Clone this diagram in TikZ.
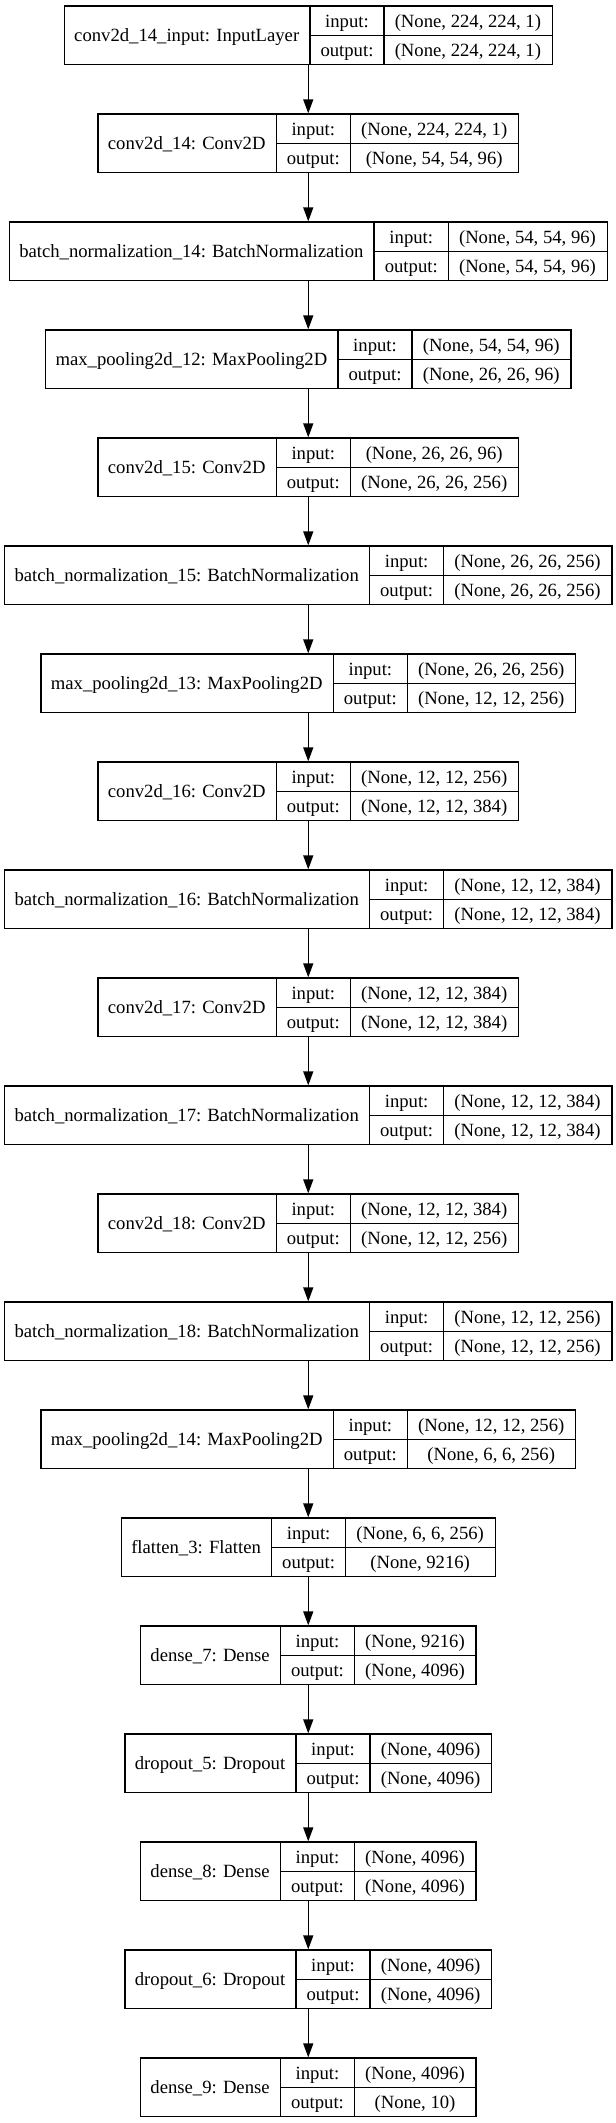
\documentclass[tikz,border=0pt]{standalone}
\usepackage{fontspec}
\setmainfont{Liberation Serif}
\usetikzlibrary{arrows.meta}
\newlength\lyrA \newlength\lyrB \newlength\lyrC \newlength\lyrD \newlength\lyrT
\newcommand\lyrfont{\normalfont\fontsize{14pt}{16.8pt}\selectfont}
\tikzset{
  box/.style={draw=black, line width=1pt, inner sep=0pt, minimum height=44pt},
  cell/.style={draw=black, line width=1pt},
  txt/.style={inner sep=0pt, anchor=base, font=\lyrfont},
  arr/.style={-{Triangle[length=10.5pt,width=7.5pt]}, line width=1pt, draw=black},
}
% measuring pass (outside the picture)
\newcommand\measurelayer[5]{%
  \settowidth\lyrA{\lyrfont #3}\addtolength\lyrA{16pt}%
  \settowidth\lyrB{\lyrfont output:}\addtolength\lyrB{16pt}%
  \settowidth\lyrC{\lyrfont #4}\settowidth\lyrD{\lyrfont #5}%
  \ifdim\lyrD>\lyrC \lyrC=\lyrD\fi
  \addtolength\lyrC{16pt}%
  \expandafter\xdef\csname lwA#1\endcsname{\the\lyrA}%
  \expandafter\xdef\csname lwB#1\endcsname{\the\lyrB}%
  \expandafter\xdef\csname lwC#1\endcsname{\the\lyrC}%
}
% drawing pass: #1 name, #2 index, #3 label, #4 input shape, #5 output shape
\newcommand\drawlayer[5]{%
  \lyrA=\csname lwA#1\endcsname\relax
  \lyrB=\csname lwB#1\endcsname\relax
  \lyrC=\csname lwC#1\endcsname\relax
  \lyrT=\lyrA \advance\lyrT\lyrB \advance\lyrT\lyrC
  \node[box, minimum width=\lyrT] (#1) at (231.2pt,{-4.5pt-81pt*(#2-1)-22pt}) {};
  \draw[cell] ([xshift=\lyrA]#1.north west) -- ([xshift=\lyrA]#1.south west);
  \draw[cell] ([xshift=\lyrA+\lyrB]#1.north west) -- ([xshift=\lyrA+\lyrB]#1.south west);
  \draw[cell] ([xshift=\lyrA]#1.west) -- (#1.east);
  \node[txt] (#1-name) at ([xshift=0.5\lyrA, yshift=-4.8pt]#1.west) {#3};
  \node[txt] (#1-ik) at ([xshift=\lyrA+0.5\lyrB, yshift=6.2pt]#1.west) {input:};
  \node[txt] (#1-ok) at ([xshift=\lyrA+0.5\lyrB, yshift=-15.8pt]#1.west) {output:};
  \node[txt] (#1-iv) at ([xshift=\lyrA+\lyrB+0.5\lyrC, yshift=6.2pt]#1.west) {#4};
  \node[txt] (#1-ov) at ([xshift=\lyrA+\lyrB+0.5\lyrC, yshift=-15.8pt]#1.west) {#5};
}
\newcommand\layerlist{%
\layer{L1}{1}{conv2d\_14\_input: InputLayer}{(None, 224, 224, 1)}{(None, 224, 224, 1)}%
\layer{L2}{2}{conv2d\_14: Conv2D}{(None, 224, 224, 1)}{(None, 54, 54, 96)}%
\layer{L3}{3}{batch\_normalization\_14: BatchNormalization}{(None, 54, 54, 96)}{(None, 54, 54, 96)}%
\layer{L4}{4}{max\_pooling2d\_12: MaxPooling2D}{(None, 54, 54, 96)}{(None, 26, 26, 96)}%
\layer{L5}{5}{conv2d\_15: Conv2D}{(None, 26, 26, 96)}{(None, 26, 26, 256)}%
\layer{L6}{6}{batch\_normalization\_15: BatchNormalization}{(None, 26, 26, 256)}{(None, 26, 26, 256)}%
\layer{L7}{7}{max\_pooling2d\_13: MaxPooling2D}{(None, 26, 26, 256)}{(None, 12, 12, 256)}%
\layer{L8}{8}{conv2d\_16: Conv2D}{(None, 12, 12, 256)}{(None, 12, 12, 384)}%
\layer{L9}{9}{batch\_normalization\_16: BatchNormalization}{(None, 12, 12, 384)}{(None, 12, 12, 384)}%
\layer{L10}{10}{conv2d\_17: Conv2D}{(None, 12, 12, 384)}{(None, 12, 12, 384)}%
\layer{L11}{11}{batch\_normalization\_17: BatchNormalization}{(None, 12, 12, 384)}{(None, 12, 12, 384)}%
\layer{L12}{12}{conv2d\_18: Conv2D}{(None, 12, 12, 384)}{(None, 12, 12, 256)}%
\layer{L13}{13}{batch\_normalization\_18: BatchNormalization}{(None, 12, 12, 256)}{(None, 12, 12, 256)}%
\layer{L14}{14}{max\_pooling2d\_14: MaxPooling2D}{(None, 12, 12, 256)}{(None, 6, 6, 256)}%
\layer{L15}{15}{flatten\_3: Flatten}{(None, 6, 6, 256)}{(None, 9216)}%
\layer{L16}{16}{dense\_7: Dense}{(None, 9216)}{(None, 4096)}%
\layer{L17}{17}{dropout\_5: Dropout}{(None, 4096)}{(None, 4096)}%
\layer{L18}{18}{dense\_8: Dense}{(None, 4096)}{(None, 4096)}%
\layer{L19}{19}{dropout\_6: Dropout}{(None, 4096)}{(None, 4096)}%
\layer{L20}{20}{dense\_9: Dense}{(None, 4096)}{(None, 10)}%
}
\begin{document}
\let\layer\measurelayer
\layerlist
\let\layer\drawlayer
\begin{tikzpicture}[x=1pt,y=1pt]
\fill[white] (0,0) rectangle (462,-1592.25);
\useasboundingbox (0,0) rectangle (462,-1592.25);
\layerlist
\foreach \a/\b in {L1/L2,L2/L3,L3/L4,L4/L5,L5/L6,L6/L7,L7/L8,L8/L9,L9/L10,L10/L11,L11/L12,L12/L13,L13/L14,L14/L15,L15/L16,L16/L17,L17/L18,L18/L19,L19/L20}
  \draw[arr] (\a.south) -- (\b.north);
\end{tikzpicture}
\end{document}
